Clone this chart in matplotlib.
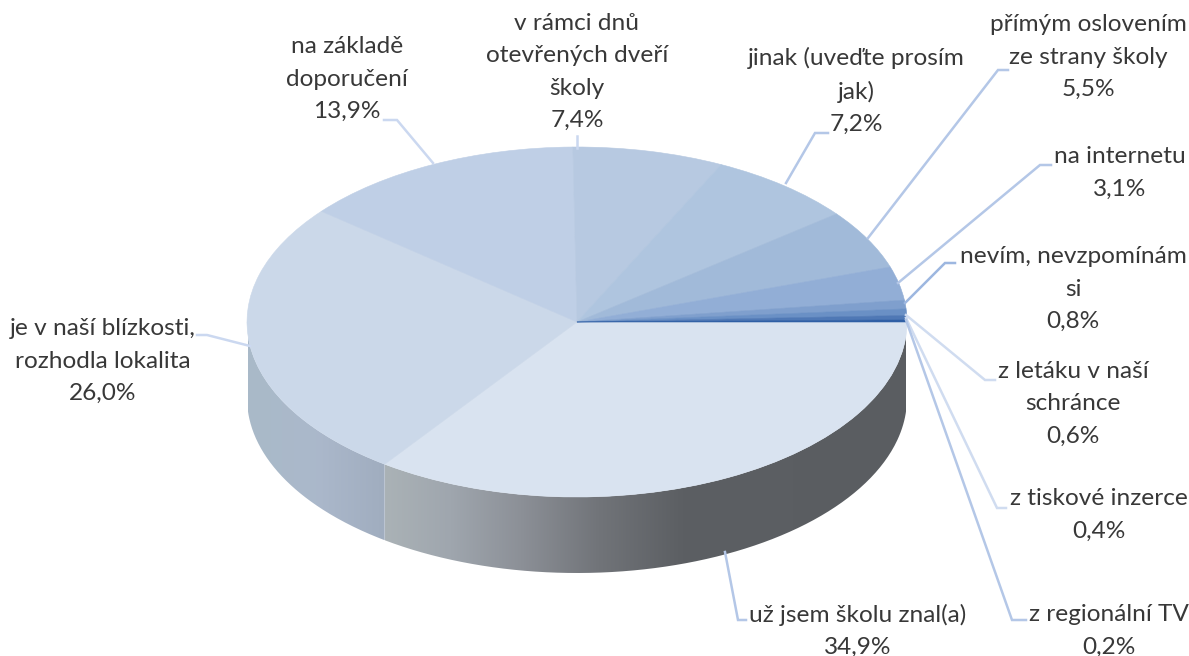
import numpy as np
import matplotlib
matplotlib.use('Agg')
import matplotlib.pyplot as plt
from matplotlib.colors import LinearSegmentedColormap
from matplotlib.patches import PathPatch
from matplotlib.path import Path

plt.rcParams['font.family'] = ['Lato', 'DejaVu Sans']

labels = ['už jsem školu znal(a)', 'je v naší blízkosti,\nrozhodla lokalita', 'na základě\ndoporučení',
          'v rámci dnů\notevřených dveří\nškoly', 'jinak (uveďte prosím\njak)', 'přímým oslovením\nze strany školy',
          'na internetu', 'nevím, nevzpomínám\nsi', 'z letáku v naší\nschránce', 'z tiskové inzerce', 'z regionální TV']
values = [34.9, 26.0, 13.9, 7.4, 7.2, 5.5, 3.1, 0.8, 0.6, 0.4, 0.2]
colors = ['#D9E3F0', '#CBD8E9', '#BFCFE6', '#B7C9E1', '#AFC5DF', '#A1BAD9',
          '#92AED6', '#7F9FCD', '#6A90C5', '#4F78B5', '#2F5FA5']

# where each label sits, in picture pixels
label_x = [858, 103, 347, 577, 856, 1088, 1120, 1073, 1073, 1099, 1109]
label_y = [631, 361, 79, 72, 91, 57, 173, 289, 404, 515, 631]
leaders = [[(725, 552), (738, 620), (746, 620)],
           [(250, 346), (207, 335), (197, 335)],
           [(433, 163), (397, 120), (384, 120)],
           [(577, 148), (577, 136)],
           [(786, 183), (815, 133), (828, 133)],
           [(868, 238), (998, 70), (1008, 70)],
           [(898, 283), (1040, 165), (1051, 165)],
           [(905, 303), (945, 263), (955, 263)],
           [(906, 315), (985, 380), (995, 380)],
           [(906, 318), (997, 508), (1006, 508)],
           [(906, 320), (1012, 620), (1026, 620)]]
leader_colors = ['#B4C7E7', '#CBD8F0', '#CBD8F0', '#CBD8F0', '#B4C7E7', '#B4C7E7',
                 '#B4C7E7', '#9DB7E0', '#D0DCF0', '#D0DCF0', '#B4C7E7']

W, H = 1189, 656
cx, cy, rx, ry, depth = 577, 322, 330, 175, 76

fig = plt.figure(figsize=(W/100, H/100), dpi=100)

ax = fig.add_axes([0, 0, 1, 1])
wedges, _ = ax.pie(values, colors=colors, startangle=0, counterclock=False, radius=1,
                   wedgeprops={'linewidth': 0.4})
for w, c in zip(wedges, colors):
    w.set_edgecolor(c)
    w.set_zorder(3)
ax.set_aspect('auto')
ax.axis('off')

# side of the disc
d = depth/ry


def side(a0, a1, stops, x0, x1):
    t = np.radians(np.linspace(a0, a1, 200))
    xs = np.cos(t)
    ys = -np.sin(t)
    pts = np.r_[np.c_[xs, ys], np.c_[xs[::-1], ys[::-1]-d], [[xs[0], ys[0]]]]
    patch = PathPatch(Path(pts), fc='none', ec='none', transform=ax.transData)
    ax.add_patch(patch)
    cmap = LinearSegmentedColormap.from_list('side', stops)
    grad = np.linspace(0, 1, 256).reshape(1, -1)
    im = ax.imshow(grad, cmap=cmap, extent=[x0, x1, -2, 1], aspect='auto', zorder=2, interpolation='bilinear')
    im.set_clip_path(patch)


angles = np.cumsum(values)/np.sum(values)*360
side(0, angles[0], [(0, '#AAB2B6'), (0.125, '#9FA6AE'), (0.26, '#8C9097'), (0.41, '#717479'),
                    (0.57, '#5C5F63'), (1, '#5A5D61')],
     (385-cx)/rx, (906-cx)/rx)
side(angles[0], 180, [(0, '#A9BAC8'), (0.5, '#ABB8CB'), (1, '#A0ADBF')], (248-cx)/rx, (385-cx)/rx)
ax.set_xlim(-cx/rx, (W-cx)/rx)
ax.set_ylim((cy-H)/ry, cy/ry)

# labels and leader lines in pixel coordinates
over = fig.add_axes([0, 0, 1, 1], facecolor='none')
over.set_xlim(0, W)
over.set_ylim(H, 0)
over.axis('off')
for name, val, x, y, pts, lc in zip(labels, values, label_x, label_y, leaders, leader_colors):
    over.plot([p[0] for p in pts], [p[1] for p in pts], color=lc, lw=1.8, solid_joinstyle='miter')
    txt = name + '\n' + f'{val:.1f}%'.replace('.', ',')
    over.text(x, y, txt, ha='center', va='center', fontsize=17.6, color='#383838', linespacing=1.66)

fig.savefig('out.png', dpi=100)
